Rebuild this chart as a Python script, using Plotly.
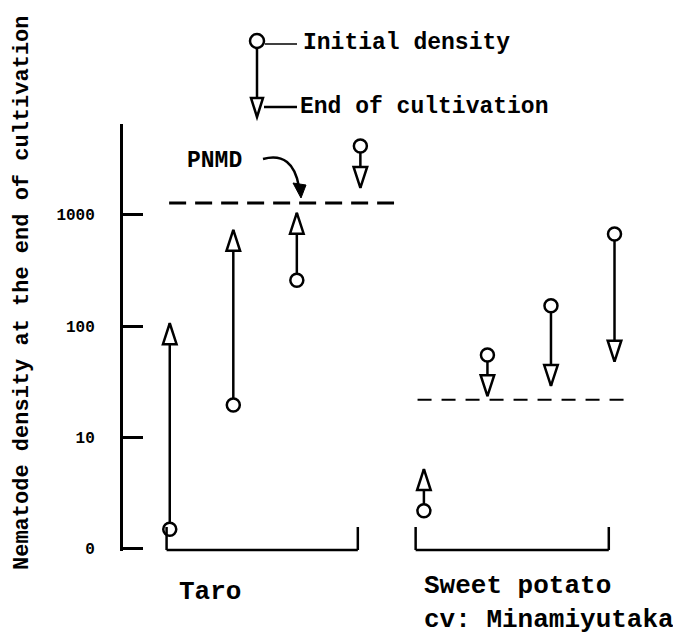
import plotly.graph_objects as go

# ---------------- data ----------------
groups = ["Taro", "Sweet potato"]
group_of_item = [0, 0, 0, 0, 1, 1, 1, 1]
initial_density = [1.5, 19.6, 258, 4140, 2.2, 55, 152, 670]
end_density = [106, 730, 1040, 1740, 5.2, 23.5, 29, 48]
pnmd = [1270, 21.8]          # Taro, Sweet potato
tick_values = [1, 10, 100, 1000]
tick_labels = ["0", "10", "100", "1000"]

FONT = "Liberation Mono"
BLACK = "black"

# plot-area geometry (page pixels) used for paper-coordinate decorations
L, R, T, B = 122, 640, 123, 550
OFF = 7  # default page body margin of the html page
def px(x):
    return (x - L) / (R - L)
def py(y):
    return (B - y) / (B - T)

xi = list(range(len(initial_density)))

fig = go.Figure()

# connecting lines
for i in xi:
    fig.add_trace(go.Scatter(x=[i, i], y=[initial_density[i], end_density[i]], mode="lines",
                             line=dict(color=BLACK, width=2.5), showlegend=False, hoverinfo="skip"))

# end-of-cultivation arrow heads (apex at the end value)
up_x = [i for i in xi if end_density[i] >= initial_density[i]]
dn_x = [i for i in xi if end_density[i] < initial_density[i]]
fig.add_trace(go.Scatter(x=up_x, y=[end_density[i] for i in up_x], mode="markers",
                         marker=dict(symbol="arrow", angle=0, size=22, color="white",
                                     line=dict(color=BLACK, width=2.5)),
                         showlegend=False))
fig.add_trace(go.Scatter(x=dn_x, y=[end_density[i] for i in dn_x], mode="markers",
                         marker=dict(symbol="arrow", angle=180, size=22, color="white",
                                     line=dict(color=BLACK, width=2.5)),
                         showlegend=False))
# initial density circles
fig.add_trace(go.Scatter(x=xi, y=initial_density, mode="markers",
                         marker=dict(symbol="circle", size=13, color="white",
                                     line=dict(color=BLACK, width=2.5)),
                         showlegend=False))

shapes = []
# PNMD dashed lines (x extents in data coords)
pnmd_extent = [(-0.01, 3.53), (3.90, 7.15)]
pnmd_style = [dict(width=3, dash="17px,9px"), dict(width=2, dash="14px,10px")]
for g in range(len(groups)):
    x0, x1 = pnmd_extent[g]
    shapes.append(dict(type="line", xref="x", yref="y", x0=x0, x1=x1, y0=pnmd[g], y1=pnmd[g],
                       line=dict(color=BLACK, **pnmd_style[g])))

# group brackets along the bottom
bracket_extent = [(-0.05, 2.96), (3.87, 6.91)]
for g in range(len(groups)):
    x0, x1 = bracket_extent[g]
    yb = py(549)
    shapes.append(dict(type="line", xref="x", yref="paper", x0=x0, x1=x1, y0=yb, y1=yb,
                       line=dict(color=BLACK, width=2.5)))
    for xx in (x0, x1):
        shapes.append(dict(type="line", xref="x", yref="paper", x0=xx, x1=xx, y0=yb, y1=py(526),
                           line=dict(color=BLACK, width=2.5)))

# legend key
shapes.append(dict(type="circle", xref="paper", yref="paper", x0=px(249), x1=px(263),
                   y0=py(47), y1=py(33), line=dict(color=BLACK, width=2.5), fillcolor="white"))
shapes.append(dict(type="line", xref="paper", yref="paper", x0=px(256), x1=px(256),
                   y0=py(47), y1=py(100), line=dict(color=BLACK, width=2.5)))
shapes.append(dict(type="path", xref="paper", yref="paper",
                   path=f"M {px(250)},{py(97)} L {px(262)},{py(97)} L {px(256)},{py(116)} Z",
                   line=dict(color=BLACK, width=2.5), fillcolor="white"))
shapes.append(dict(type="line", xref="paper", yref="paper", x0=px(264), x1=px(296),
                   y0=py(43), y1=py(43), line=dict(color=BLACK, width=1.5)))
shapes.append(dict(type="line", xref="paper", yref="paper", x0=px(263), x1=px(296),
                   y0=py(106), y1=py(106), line=dict(color=BLACK, width=2.5)))

# PNMD curved pointer
shapes.append(dict(type="path", xref="paper", yref="paper",
                   path=f"M {px(262)},{py(158)} Q {px(292)},{py(150)} {px(298)},{py(186)}",
                   line=dict(color=BLACK, width=2.5)))
shapes.append(dict(type="path", xref="paper", yref="paper",
                   path=f"M {px(292)},{py(182)} L {px(305)},{py(184)} L {px(300)},{py(197)} Z",
                   line=dict(color=BLACK, width=1), fillcolor=BLACK))

annotations = [
    dict(text="Initial density", x=px(300), y=py(42), xref="paper", yref="paper",
         xanchor="left", yanchor="middle", showarrow=False,
         font=dict(family=FONT, size=23, color=BLACK, weight="bold")),
    dict(text="End of cultivation", x=px(297), y=py(106), xref="paper", yref="paper",
         xanchor="left", yanchor="middle", showarrow=False,
         font=dict(family=FONT, size=23, color=BLACK, weight="bold")),
    dict(text="PNMD", x=px(184), y=py(160), xref="paper", yref="paper",
         xanchor="left", yanchor="middle", showarrow=False,
         font=dict(family=FONT, size=23, color=BLACK, weight="bold")),
    dict(text=groups[0], x=px(176), y=py(591), xref="paper", yref="paper",
         xanchor="left", yanchor="middle", showarrow=False,
         font=dict(family=FONT, size=26, color=BLACK, weight="bold")),
    dict(text=groups[1] + "<br>cv: Minamiyutaka", x=px(421), y=py(602), xref="paper", yref="paper",
         xanchor="left", yanchor="middle", align="left", showarrow=False,
         font=dict(family=FONT, size=26, color=BLACK, weight="bold")),
    dict(text="Nematode density at the end of cultivation", x=px(21), y=py(292),
         xref="paper", yref="paper", textangle=-90, showarrow=False,
         xanchor="center", yanchor="middle",
         font=dict(family=FONT, size=22, color=BLACK, weight="bold")),
]

fig.update_layout(
    width=681, height=640,
    margin=dict(l=L - OFF, r=681 - (R - OFF), t=T - OFF, b=640 - (B - OFF)),
    paper_bgcolor="white", plot_bgcolor="white",
    showlegend=False,
    shapes=shapes, annotations=annotations,
    xaxis=dict(range=[-0.736, 7.417], visible=False, showgrid=False, zeroline=False),
    yaxis=dict(type="log", range=[-0.019, 3.814], showgrid=False, zeroline=False,
               showline=True, linewidth=3, linecolor=BLACK, mirror=False,
               ticks="inside", ticklen=20, tickwidth=2.5, tickcolor=BLACK,
               tickvals=tick_values, ticktext=tick_labels, ticklabelstandoff=22,
               tickfont=dict(family=FONT, size=16, color=BLACK, weight="bold")),
)

fig.write_html("out.html")
